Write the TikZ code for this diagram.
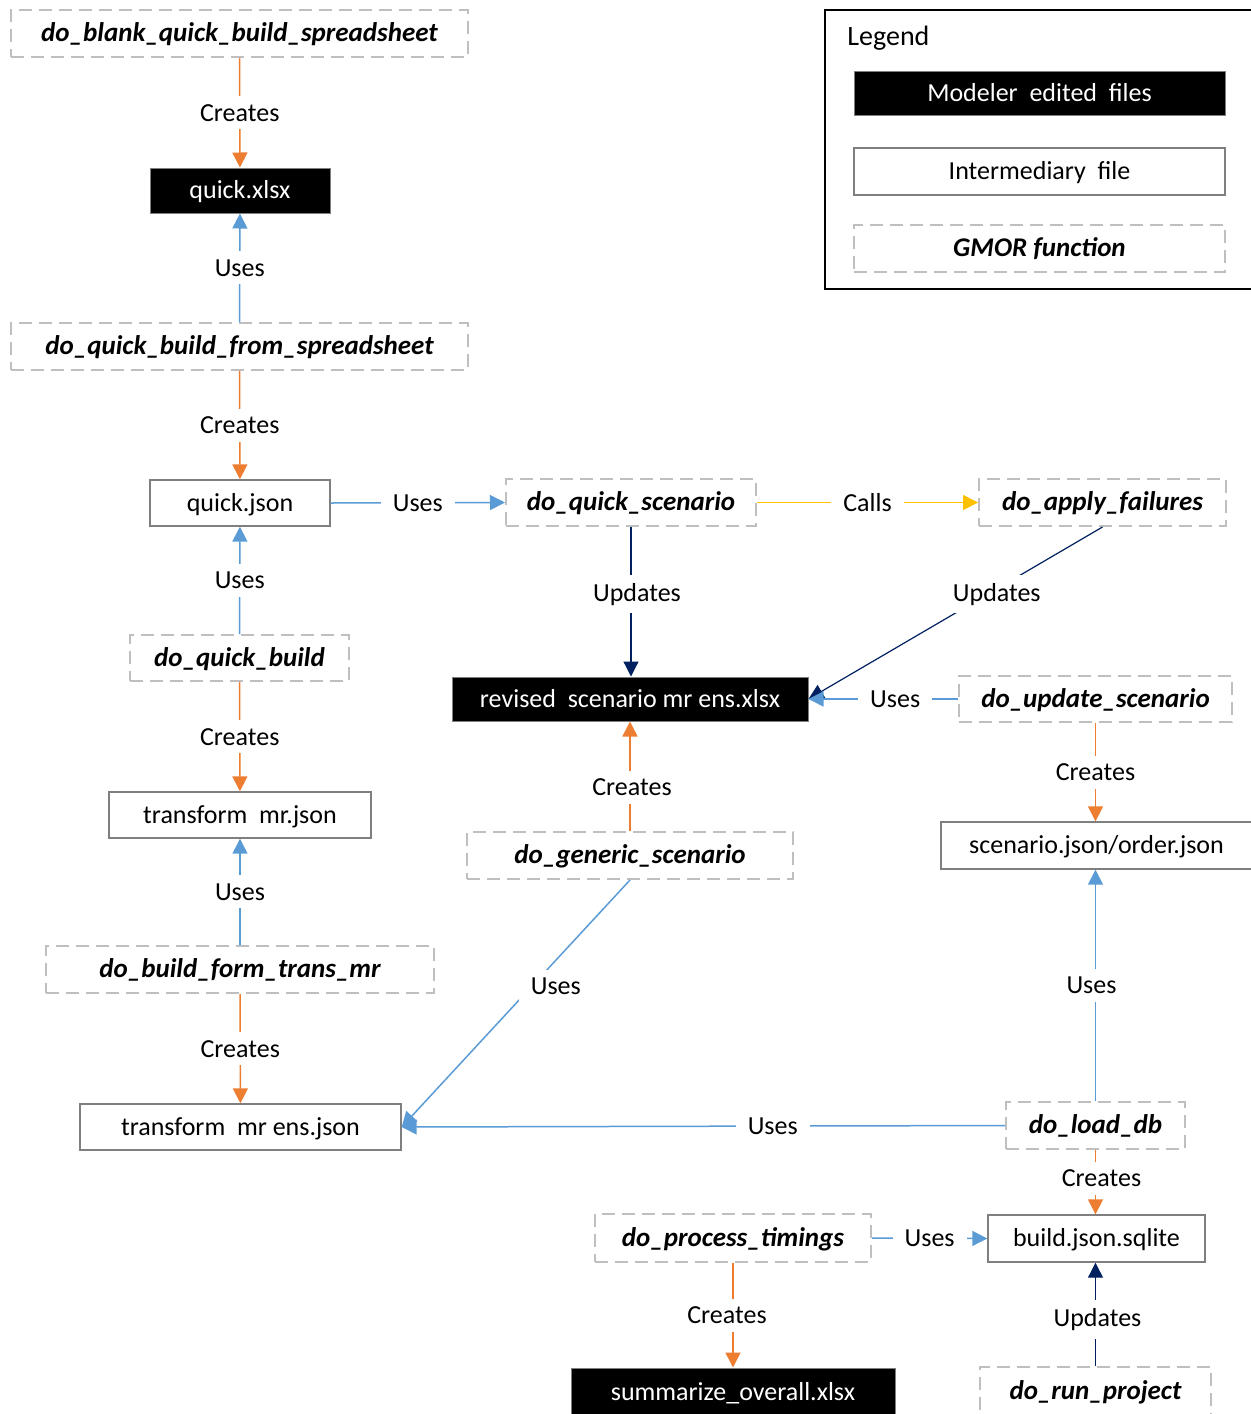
\documentclass[tikz,border=0pt]{standalone}
\usepackage{fontspec}
\setmainfont{Carlito}
\usetikzlibrary{arrows.meta}
\definecolor{corange}{HTML}{ED7D31}
\definecolor{cblue}{HTML}{5B9BD5}
\definecolor{cnavy}{HTML}{002060}
\definecolor{cyellow}{HTML}{FFC000}
\definecolor{dashgray}{HTML}{BFBFBF}
\definecolor{boxgray}{HTML}{7F7F7F}
\begin{document}
\begin{tikzpicture}[x=0.5pt,y=-0.5pt,
  every node/.style={font=\fontsize{13}{15}\selectfont, inner sep=0pt},
  boxtext/.style={text height=10pt, text depth=2pt},
  func/.style={boxtext, draw=dashgray, line width=1pt, dash pattern=on 6.5pt off 3.5pt,
    font=\fontsize{13.5}{15}\selectfont\bfseries\itshape},
  inter/.style={boxtext, draw=boxgray, line width=0.7pt, fill=white},
  modeler/.style={boxtext, fill=black, text=white, draw=boxgray, line width=0.5pt},
  lbl/.style={fill=white, inner xsep=6pt, inner ysep=4pt, text=black},
  tip/.style={-{Triangle[width=7.5pt,length=7.5pt]}},
  creates/.style={draw=corange, line width=0.75pt, tip},
  uses/.style={draw=cblue, line width=0.75pt, tip},
  updates/.style={draw=cnavy, line width=0.6pt, tip},
  calls/.style={draw=cyellow, line width=0.75pt, tip},
  sz/.style 2 args={minimum width=#1*0.5pt, minimum height=#2*0.5pt}
]
\useasboundingbox (0,0) rectangle (1250,1414);

% legend
\draw[line width=1pt] (825,10) rectangle (1252,289);
\node[anchor=west, font=\fontsize{14}{16}\selectfont] (legtitle) at (847,38) {Legend};
\node[modeler, sz={371}{44}] (legmod) at (1039.5,93) {Modeler\ \ edited\ \ files};
\node[inter, sz={371}{47}] (legint) at (1039.5,171.5) {Intermediary\ \ file};
\node[func, sz={371}{47}] (legfun) at (1039.5,248.5) {GMOR function};

% nodes
\node[func, sz={457}{47}] (blank) at (239.5,33.5) {do\_blank\_quick\_build\_spreadsheet};
\node[modeler, sz={180}{45}] (qxlsx) at (240,190.5) {quick.xlsx};
\node[func, sz={457}{47}] (qbfs) at (239.5,346.5) {do\_quick\_build\_from\_spreadsheet};
\node[inter, sz={180}{46}] (qjson) at (240,503) {quick.json};
\node[func, sz={219}{46}] (qbuild) at (239.5,658) {do\_quick\_build};
\node[inter, sz={262}{46}] (tmr) at (240,815) {transform\ \ mr.json};
\node[func, sz={388}{47}] (bftm) at (240,969.5) {do\_build\_form\_trans\_mr};
\node[inter, sz={321}{46}] (tmre) at (240.5,1127) {transform\ \ mr ens.json};
\node[func, sz={250}{47}] (qscen) at (631,502.5) {do\_quick\_scenario};
\node[func, sz={247}{47}] (apply) at (1102.5,502.5) {do\_apply\_failures};
\node[modeler, sz={356}{44}] (revised) at (630,699) {revised\ \ scenario mr ens.xlsx};
\node[func, sz={273}{46}] (upd) at (1095.5,699) {do\_update\_scenario};
\node[func, sz={326}{47}] (gen) at (630,855.5) {do\_generic\_scenario};
\node[inter, sz={311}{47}] (sjson) at (1096.5,845.5) {scenario.json/order.json};
\node[func, sz={179}{47}] (load) at (1095.5,1125.5) {do\_load\_db};
\node[inter, sz={217}{47}] (sqlite) at (1096.5,1238.5) {build.json.sqlite};
\node[func, sz={276}{48}] (timings) at (733,1238) {do\_process\_timings};
\node[modeler, sz={324}{48}] (summ) at (733,1392) {summarize\_overall.xlsx};
\node[func, sz={231}{48}] (runp) at (1095.5,1391) {do\_run\_project};

% left column
\draw[creates] (blank) -- node[lbl]{Creates} (qxlsx);
\draw[uses] (qbfs) -- node[lbl]{Uses} (qxlsx);
\draw[creates] (qbfs) -- node[lbl]{Creates} (qjson);
\draw[uses] (qbuild) -- node[lbl]{Uses} (qjson);
\draw[creates] (qbuild) -- node[lbl]{Creates} (tmr);
\draw[uses] (bftm) -- node[lbl]{Uses} (tmr);
\draw[creates] (bftm) -- node[lbl]{Creates} (tmre);

% middle and right
\draw[uses] (qjson.east) -- node[lbl]{Uses} (qscen.west);
\draw[calls] (qscen.east) -- node[lbl]{Calls} (apply.west);
\draw[updates] (qscen.south) -- node[lbl, pos=0.45, xshift=3pt]{Updates} (qscen.south |- revised.north);
\draw[updates] (apply.south) -- node[lbl, pos=0.38, xshift=3pt, yshift=-1pt]{Updates} (revised.east);
\draw[uses] (upd.west) -- node[lbl, pos=0.42]{Uses} (revised.east);
\draw[creates] (gen.north) -- node[lbl, pos=0.4, xshift=1pt]{Creates} (gen.north |- revised.south);
\draw[creates] (upd.south) -- node[lbl]{Creates} (upd.south |- sjson.north);
\draw[uses] (load.north) -- node[lbl, xshift=-2pt]{Uses} (load.north |- sjson.south);
\draw[uses] (gen.south) -- node[lbl, pos=0.43, xshift=12pt]{Uses} (tmre.east);
\draw[uses] (load.west) -- node[lbl, pos=0.385]{Uses} (tmre.east);
\draw[creates] (load.south) -- node[lbl, xshift=3pt, yshift=2pt]{Creates} (load.south |- sqlite.north);
\draw[uses] (timings.east) -- node[lbl]{Uses} (sqlite.west);
\draw[creates] (timings.south) -- node[lbl, xshift=-3pt]{Creates} (timings.south |- summ.north);
\draw[updates] (runp.north) -- node[lbl, pos=0.45, xshift=1pt]{Updates} (runp.north |- sqlite.south);
\end{tikzpicture}
\end{document}
